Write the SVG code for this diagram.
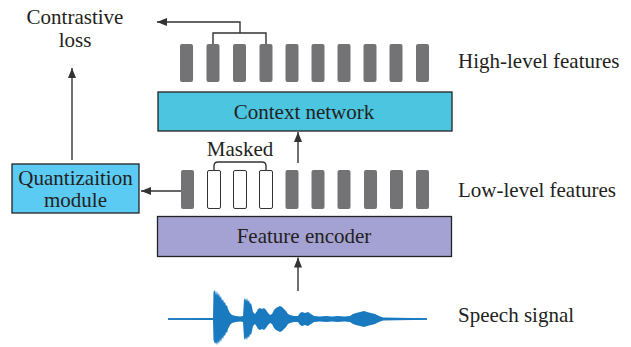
<svg xmlns="http://www.w3.org/2000/svg" width="631" height="347" viewBox="0 0 631 347">
<defs>
<marker id="ah" viewBox="0 0 10 8" refX="10" refY="4" markerWidth="10" markerHeight="8" markerUnits="userSpaceOnUse" orient="auto">
<path d="M0,0 L10,4 L0,8 Z" fill="#333"/>
</marker>
<style>
text{font-family:"Liberation Serif","Times New Roman",serif;font-size:21px;fill:#231f20}
.box{stroke:#222;stroke-width:1.3}
.bar{fill:#737375}
.wbar{fill:#fff;stroke:#333;stroke-width:1}
.ln{fill:none;stroke:#333;stroke-width:1.4}
.ar{fill:none;stroke:#333;stroke-width:1.4;marker-end:url(#ah)}
</style>
</defs>
<rect width="631" height="347" fill="#fff"/>

<g id="high-level-features">
<rect class="bar" x="180" y="44" width="13" height="38" rx="2"/>
<rect class="bar" x="206.5" y="44" width="13" height="38" rx="2"/>
<rect class="bar" x="233" y="44" width="13" height="38" rx="2"/>
<rect class="bar" x="259.5" y="44" width="13" height="38" rx="2"/>
<rect class="bar" x="285.5" y="44" width="13" height="38" rx="2"/>
<rect class="bar" x="311.5" y="44" width="13" height="38" rx="2"/>
<rect class="bar" x="337.5" y="44" width="13" height="38" rx="2"/>
<rect class="bar" x="363.5" y="44" width="13" height="38" rx="2"/>
<rect class="bar" x="389.5" y="44" width="13" height="38" rx="2"/>
<rect class="bar" x="416" y="44" width="13" height="38" rx="2"/>
<text x="458" y="68">High-level features</text>
</g>

<g id="context-network">
<rect class="box" x="158" y="92" width="294" height="39" fill="#4bc5e0"/>
<text x="304" y="119" text-anchor="middle">Context network</text>
</g>

<g id="low-level-features">
<rect class="bar" x="181" y="170" width="13" height="39" rx="2"/>
<rect class="wbar" x="207.5" y="170.5" width="13" height="38" rx="1.5"/>
<rect class="wbar" x="233.5" y="170.5" width="13" height="38" rx="1.5"/>
<rect class="wbar" x="259.5" y="170.5" width="13" height="38" rx="1.5"/>
<rect class="bar" x="285.5" y="170" width="13" height="39" rx="2"/>
<rect class="bar" x="311.5" y="170" width="13" height="39" rx="2"/>
<rect class="bar" x="337.5" y="170" width="13" height="39" rx="2"/>
<rect class="bar" x="364" y="170" width="13" height="39" rx="2"/>
<rect class="bar" x="390" y="170" width="13" height="39" rx="2"/>
<rect class="bar" x="416" y="170" width="13" height="39" rx="2"/>
<path class="ln" d="M214,170 V166 Q214,162 218,162 H262 Q266,162 266,166 V170"/>
<text x="240" y="156" text-anchor="middle">Masked</text>
<text x="458" y="197">Low-level features</text>
</g>

<g id="feature-encoder">
<rect class="box" x="157.5" y="216.5" width="294" height="40" fill="#a3a2d3"/>
<text x="304" y="243" text-anchor="middle">Feature encoder</text>
</g>

<g id="quantization-module">
<rect class="box" x="12" y="164" width="127" height="49" fill="#5ccbf4"/>
<text x="75.5" y="185" text-anchor="middle">Quantizaition</text>
<text x="75.5" y="207" text-anchor="middle">module</text>
</g>

<g id="contrastive-loss">
<text x="75" y="24" text-anchor="middle">Contrastive</text>
<text x="75" y="47" text-anchor="middle">loss</text>
</g>

<g id="speech-signal">
<line x1="168" y1="319" x2="427" y2="319" stroke="#1a7abf" stroke-width="1.6"/>
<polygon fill="#1a7abf" points="168,318.3 213,318 213.5,292 215,290 216,295 217,291 218,296 219,293 220,298 221,296 222,301 223,299 224,303 225,302 226,306 227,305 228,309 229,311 230,313 232,315 236,316 240,316.5 243,316 244,300 245,298 246,301 247,298 248,302 249,300 250,304 251,303 252,307 253,312 255,314 257,311 258,309 260,308 262,309 264,308 266,310 268,313 270,315 272,314 274,310 276,308 278,307 280,306 282,307 284,309 286,311 288,314 290,315 294,316 298,316 300,313 302,312 305,313 308,312 311,314 314,316 320,316.5 326,316 332,316.5 338,316 344,316.5 350,316 353,314 356,313 360,312 364,311 367,312 371,313 375,314 379,316 383,317.5 427,318.3 427,319.7 383,320.5 379,322 375,324 371,325 367,326 364,327 360,326 356,325 353,324 350,322 344,321.5 338,322 332,321.5 326,322 320,321.5 314,322 311,324 308,326 305,325 302,326 300,325 298,322 294,322 290,323 288,324 286,327 284,329 282,331 280,332 278,331 276,330 274,328 272,324 270,323 268,325 266,328 264,330 262,329 260,330 258,329 257,327 255,324 253,326 252,331 251,335 250,334 249,338 248,336 247,340 246,337 245,340 244,338 243,322 240,321.5 236,322 232,323 230,325 229,327 228,329 227,333 226,332 225,336 224,335 223,339 222,337 221,342 220,339 219,344 218,341 217,345 216,342 215,344 213.5,340 213,320 168,319.7"/>
<text x="458" y="322">Speech signal</text>
</g>

<g id="connectors">
<path class="ln" d="M213,44 V33 H266 V44"/>
<path class="ar" d="M240,33 V22 H157"/>
<path class="ar" d="M72,160 V68"/>
<path class="ar" d="M181,191 H141"/>
<path class="ar" d="M298,163 V132"/>
<path class="ar" d="M298,291 V257.5"/>
</g>
</svg>
